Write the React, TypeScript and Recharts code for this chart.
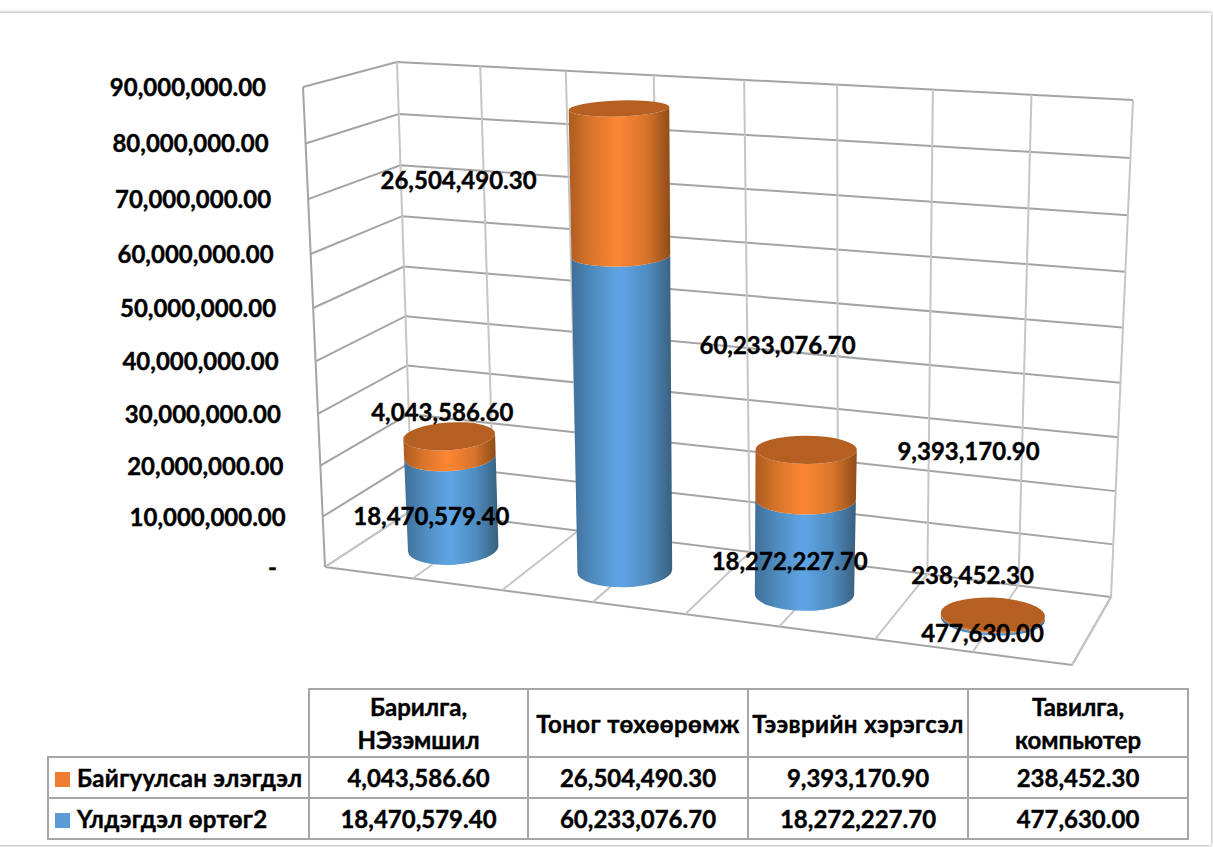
import { BarChart, Bar, XAxis, YAxis, CartesianGrid, LabelList } from "recharts"

const categories = ["Барилга, НЭзэмшил", "Тоног төхөөрөмж", "Тээврийн хэрэгсэл", "Тавилга, компьютер"]
const headerLines = [["Барилга,", "НЭзэмшил"], ["Тоног төхөөрөмж"], ["Тээврийн хэрэгсэл"], ["Тавилга,", "компьютер"]]
const residualValues = [18470579.4, 60233076.7, 18272227.7, 477630.0]
const depreciationValues = [4043586.6, 26504490.3, 9393170.9, 238452.3]
const yTicks = [0, 10000000, 20000000, 30000000, 40000000, 50000000, 60000000, 70000000, 80000000, 90000000]
const residualName = "Үлдэгдэл өртөг2"
const depreciationName = "Байгуулсан элэгдэл"

const tableData = categories.map((name, i) => ({ name, residual: residualValues[i], depreciation: depreciationValues[i] }))

const FONT = "Lato, 'Noto Sans', sans-serif"
const FONT_SIZE = 24
const PL = 100
const PT = 100
const PW = 1000
const PH = 500

type P = [number, number]

// unit square -> quad, corners given as (0,0) (1,0) (1,1) (0,1)
const makeQuad = (p00: P, p10: P, p11: P, p01: P) => {
    const [x0, y0] = p00, [x1, y1] = p10, [x2, y2] = p11, [x3, y3] = p01
    const dx1 = x1 - x2, dx2 = x3 - x2, sx = x0 - x1 + x2 - x3
    const dy1 = y1 - y2, dy2 = y3 - y2, sy = y0 - y1 + y2 - y3
    const det = dx1 * dy2 - dx2 * dy1
    const g = (sx * dy2 - dx2 * sy) / det
    const h = (dx1 * sy - sx * dy1) / det
    const a = x1 - x0 + g * x1, b = x3 - x0 + h * x3
    const d = y1 - y0 + g * y1, e = y3 - y0 + h * y3
    return (u: number, v: number): P => {
        const w = g * u + h * v + 1
        return [(a * u + b * v + x0) / w, (d * u + e * v + y0) / w]
    }
}

const backWall = makeQuad([412, 510], [1111, 597], [1133, 100], [397, 62])
const leftWall = makeQuad([325, 567], [412, 510], [397, 62], [303, 87])
const floor = makeQuad([325, 567], [1072, 665], [1111, 597], [412, 510])
const barPlane = makeQuad([370, 538], [1090, 631], [1116, 123], [348, 72])

const toU = (x: number) => (x - PL) / PW
const toV = (y: number) => (PT + PH - y) / PH

const poly = (pts: P[]) => pts.map((p) => p.join(",")).join(" ")

const HorizontalLine = (props: any) => {
    const v = toV(props.y1)
    const pts = [leftWall(0, v), backWall(0, v), backWall(1, v)]
    if (v < 0.001) pts.push(floor(1, 0), floor(0, 0))
    return <polyline key={props.key} points={poly(pts)} fill="none" stroke="#a4a4a4" strokeWidth={2} />
}

const VerticalLine = (props: any) => {
    const u = toU(props.x1)
    return (
        <g key={props.key}>
            <polyline points={poly([floor(u, 0), floor(u, 1), backWall(u, 1)])} fill="none" stroke="#c6c6c6" strokeWidth={2} />
            {u < 0.001 && <line x1={325} y1={567} x2={303} y2={87} stroke="#a4a4a4" strokeWidth={2} />}
        </g>
    )
}

const formatValue = (n: number) => n.toLocaleString("en-US", { minimumFractionDigits: 2, maximumFractionDigits: 2 })

const YTick = (props: any) => {
    const [fx, fy] = leftWall(0, toV(props.y))
    const value = props.payload.value
    return (
        <text x={fx - (value === 0 ? 48 : 37)} y={fy + 9} textAnchor="end" fontFamily={FONT} fontWeight={700} fontSize={FONT_SIZE} fill="#000" stroke="#000" strokeWidth={0.4}>
            {value === 0 ? "-" : formatValue(value)}
        </text>
    )
}

// one stacked cylinder segment, projected from the bar rectangle recharts hands over
const Cylinder = ({ x, y, width, height, fillId, cap }: any) => {
    const u = toU(x + width / 2)
    const du = width / 2 / PW
    const v0 = toV(y + height)
    const v1 = toV(y)
    const rot = (u - 0.6) * 8
    const rad = (rot * Math.PI) / 180
    const end = (v: number) => {
        const l = barPlane(u - du, v)
        const r = barPlane(u + du, v)
        const c: P = [(l[0] + r[0]) / 2, (l[1] + r[1]) / 2]
        const rx = (r[0] - l[0]) / 2
        const ry = 8 + 0.018 * (c[1] - 108)
        return { c, rx, ry, lx: c[0] - rx * Math.cos(rad), ly: c[1] - rx * Math.sin(rad), rxp: c[0] + rx * Math.cos(rad), ryp: c[1] + rx * Math.sin(rad) }
    }
    const b = end(v0)
    const t = end(v1)
    const d = `M${b.lx},${b.ly} A${b.rx},${b.ry} ${rot} 0 0 ${b.rxp},${b.ryp} L${t.rxp},${t.ryp} A${t.rx},${t.ry} ${rot} 0 1 ${t.lx},${t.ly} Z`
    return (
        <g>
            <path d={d} fill={`url(#${fillId})`} />
            {cap && <ellipse cx={t.c[0]} cy={t.c[1]} rx={t.rx} ry={t.ry} fill="#b56022" transform={`rotate(${rot} ${t.c[0]} ${t.c[1]})`} />}
        </g>
    )
}

const depreciationOffsets: P[] = [[-7, -34], [-161, -2], [163, -23], [-20, -39]]
const residualOffsets: P[] = [[-20, 14], [155, -71], [-15, 15], [-10, 17]]

const ValueLabel = (offsets: P[]) => (props: any) => {
    const { x, y, width, height, value, index } = props
    const [cx, cy] = barPlane(toU(x + width / 2), toV(y + height / 2))
    return (
        <text x={cx + offsets[index][0]} y={cy + offsets[index][1] + 8} textAnchor="middle" fontFamily={FONT} fontWeight={700} fontSize={FONT_SIZE} fill="#000" stroke="#000" strokeWidth={0.4}>
            {formatValue(value)}
        </text>
    )
}

const Gradient = ({ id, dark, mid, light, darker }: any) => (
    <linearGradient id={id} x1="0" y1="0" x2="1" y2="0">
        <stop offset="0%" stopColor={dark} />
        <stop offset="22%" stopColor={mid} />
        <stop offset="48%" stopColor={light} />
        <stop offset="76%" stopColor={mid} />
        <stop offset="100%" stopColor={darker} />
    </linearGradient>
)

const cellStyle: any = { border: "2px solid #a6a6a6", textAlign: "center", padding: 0, fontFamily: FONT, fontWeight: 700, fontSize: 24, color: "#000", lineHeight: "33px", WebkitTextStroke: "0.4px #000" }
const nameStyle: any = { ...cellStyle, textAlign: "left", paddingLeft: 6, whiteSpace: "nowrap", letterSpacing: 0.3 }
const swatch = (color: string) => (
    <span style={{ display: "inline-block", width: 15, height: 15, background: color, marginRight: 7, WebkitTextStroke: 0 }} />
)

const DataTable = () => (
    <table style={{ position: "absolute", left: 47, top: 688, width: 1140, tableLayout: "fixed", borderCollapse: "collapse" }}>
        <colgroup>
            <col style={{ width: 261 }} />
            <col style={{ width: 219 }} />
            <col style={{ width: 220 }} />
            <col style={{ width: 220 }} />
            <col style={{ width: 220 }} />
        </colgroup>
        <tbody>
            <tr style={{ height: 67 }}>
                <td style={{ ...cellStyle, borderTop: "none", borderLeft: "none" }} />
                {headerLines.map((lines, i) => (
                    <td key={i} style={{ ...cellStyle, whiteSpace: "nowrap", letterSpacing: lines.length === 1 ? 0.4 : 0 }}>
                        {lines.map((l) => <div key={l}>{l}</div>)}
                    </td>
                ))}
            </tr>
            <tr style={{ height: 41 }}>
                <td style={nameStyle}>{swatch("#ed7d31")}{depreciationName}</td>
                {depreciationValues.map((v, i) => <td key={i} style={cellStyle}>{formatValue(v)}</td>)}
            </tr>
            <tr style={{ height: 41 }}>
                <td style={nameStyle}>{swatch("#5b9bd5")}{residualName}</td>
                {residualValues.map((v, i) => <td key={i} style={cellStyle}>{formatValue(v)}</td>)}
            </tr>
        </tbody>
    </table>
)

const App = () => (
    <div style={{ position: "absolute", left: 0, top: 0, width: 1213, height: 847, overflow: "hidden", background: "#fff" }}>
        <div style={{ position: "absolute", left: -10, top: 13, width: 1221, height: 832, boxShadow: "0 0 4px rgba(0,0,0,0.45)" }} />
        <div style={{ position: "absolute", left: 0, top: 0 }}>
            <BarChart width={1213} height={680} data={tableData} margin={{ top: PT, left: 0, right: 1213 - PL - PW, bottom: 680 - PT - PH }} barCategoryGap="23%">
                <defs>
                    <Gradient id="blueSide" dark="#3f6f99" mid="#4f8cc0" light="#5fa5e6" darker="#39607f" />
                    <Gradient id="orangeSide" dark="#ad5c20" mid="#d9752b" light="#fd8633" darker="#8f4c18" />
                </defs>
                <CartesianGrid
                    horizontal={HorizontalLine}
                    vertical={VerticalLine}
                    verticalPoints={[100, 225, 350, 475, 600, 725, 850, 975, 1100]}
                />
                <XAxis dataKey="name" hide />
                <YAxis width={PL} domain={[0, 90000000]} ticks={yTicks} interval={0} axisLine={false} tickLine={false} tick={YTick} />
                <Bar dataKey="residual" name={residualName} stackId="a" isAnimationActive={false} shape={(p: any) => <Cylinder {...p} fillId="blueSide" />}>
                    <LabelList dataKey="residual" content={ValueLabel(residualOffsets)} />
                </Bar>
                <Bar dataKey="depreciation" name={depreciationName} stackId="a" isAnimationActive={false} shape={(p: any) => <Cylinder {...p} fillId="orangeSide" cap />}>
                    <LabelList dataKey="depreciation" content={ValueLabel(depreciationOffsets)} />
                </Bar>
            </BarChart>
        </div>
        <DataTable />
    </div>
)

export default App
